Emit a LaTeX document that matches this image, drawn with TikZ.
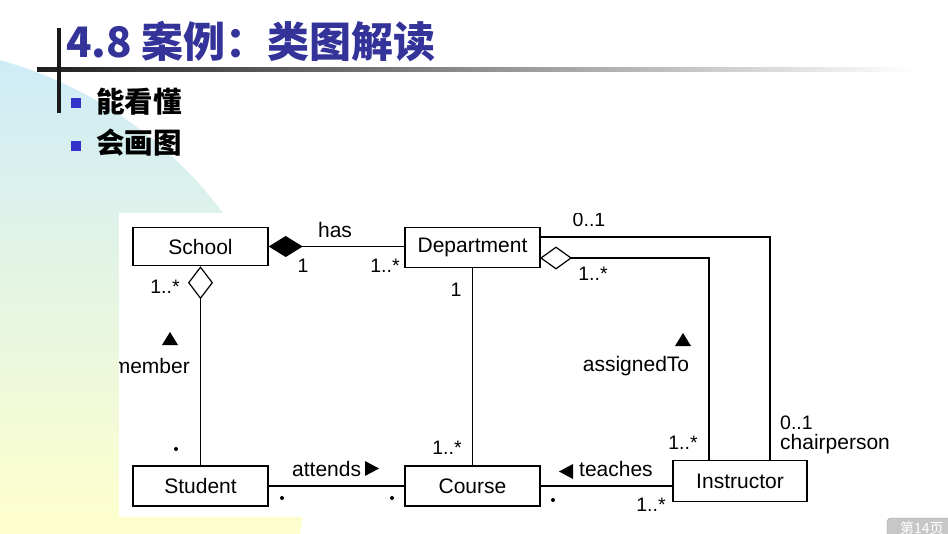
\documentclass[tikz,border=0pt]{standalone}
\usepackage{fontspec}
\setmainfont{Liberation Sans}
\newfontfamily\cjk{Noto Sans CJK SC}
\usetikzlibrary{arrows.meta,calc}
\definecolor{bgblue}{RGB}{204,235,249}
\definecolor{bgyellow}{RGB}{255,255,204}
\definecolor{titleblue}{RGB}{51,51,153}
\definecolor{bulletblue}{RGB}{51,51,204}
\newcommand\dfont{\fontsize{21}{24}\selectfont}
\newcommand\mfont{\fontsize{19.5}{22}\selectfont}
\tikzset{
  cls/.style={draw, line width=1.4pt, minimum width=135pt, minimum height=40pt, inner sep=0pt, font=\dfont, fill=white},
  lbl/.style={inner sep=0pt, font=\dfont},
  mult/.style={inner sep=0pt, font=\mfont},
  conn/.style={line width=1.2pt},
  dotmark/.style={circle, fill=black, inner sep=0pt, minimum size=4pt}
}
\begin{document}
\begin{tikzpicture}[x=1pt,y=-1pt]
\useasboundingbox (0,0) rectangle (948,533);
\fill[white] (0,0) rectangle (948,533);
% background shape
\begin{scope}
  \clip (-112,463) circle (418);
  \shade[top color=bgblue, bottom color=bgyellow] (-10,40) rectangle (330,540);
\end{scope}
% title decoration
\shade[left color=black!88, middle color=black!28, right color=white] (37,67) rectangle (914,71.5);
\fill[black!90] (56.5,28) rectangle (60.5,113);
\node[anchor=base west, inner sep=0pt, text=titleblue, font=\cjk\bfseries\fontsize{42}{46}\selectfont] (title) at (66,57) {4.8 案例：类图解读};
% bullets
\fill[bulletblue] (71,98) rectangle (80.5,108);
\fill[bulletblue] (71,141) rectangle (80.5,151);
\node[anchor=west, inner sep=0pt, font=\cjk\bfseries\fontsize{28.5}{32}\selectfont] (b1) at (96,102) {能看懂};
\node[anchor=west, inner sep=0pt, font=\cjk\bfseries\fontsize{28.5}{32}\selectfont] (b2) at (96,143) {会画图};
% diagram panel
\fill[white] (119,213) rectangle (948,517);
\begin{scope}
\clip (119,213) rectangle (948,517);
\node[cls, minimum height=38pt] (school) at (200.5,246.5) {School};
\node[cls] (dept) at (472.5,247.5) {Department};
\node[cls] (student) at (200.5,486) {Student};
\node[cls] (course) at (472.5,486) {Course};
\node[cls, minimum width=134pt, minimum height=41pt] (instr) at (740,481) {Instructor};
% has
\draw[conn, {Diamond[length=34pt,width=21pt]}-] (school.east) -- (school.east -| dept.west);
\node[lbl] (has) at (335,230) {has};
\node[mult] (m1) at (303,266) {1};
\node[mult] (m2) at (385,266) {1..*};
% member
\draw[conn, {Diamond[open,length=33pt,width=25pt]}-] (school.south) -- (student.north);
\node[mult] (m3) at (165,287) {1..*};
\fill (162,345) -- (178,345) -- (170,332) -- cycle;
\node[lbl, anchor=east] (member) at (190,366) {member};
\node[dotmark] (d1) at (176,449) {};
% attends
\draw[line width=2.4pt] (student.east) -- (course.west);
\node[lbl, anchor=west] (attends) at (292,469) {attends};
\fill (365,461) -- (365,476) -- (379,468.5) -- cycle;
\node[dotmark] (d2) at (282,498) {};
\node[dotmark] (d3) at (392,498) {};
% dept-course
\draw[conn] (dept.south) -- (course.north);
\node[mult] (m4) at (456,290) {1};
\node[mult] (m5) at (447,448) {1..*};
% teaches
\draw[conn] (course.east) -- (course.east -| instr.west);
\fill (573,464) -- (573,479) -- (559,471.5) -- cycle;
\node[lbl, anchor=west] (teaches) at (579,469) {teaches};
\node[dotmark] (d4) at (553,500) {};
\node[mult] (m6) at (651,505) {1..*};
% assignedTo
\coordinate (aS) at (540,258);
\coordinate (aX) at (709,300);
\draw[conn, {Diamond[open,length=32pt,width=23pt]}-] (aS) -| (instr.north -| aX);
\node[mult] (m7) at (593,274) {1..*};
\fill (675,346) -- (691,346) -- (683,333) -- cycle;
\node[lbl] (assigned) at (636,366) {assignedTo};
\node[mult] (m8) at (683,443) {1..*};
% chairperson
\coordinate (cS) at (540,237);
\coordinate (cX) at (770,300);
\draw[conn] (cS) -| (instr.north -| cX);
\node[mult] (m9) at (589,220) {0..1};
\node[mult, anchor=west] (m10) at (780,423) {0..1};
\node[lbl, anchor=west] (chair) at (780,444) {chairperson};
\end{scope}
% page button
\begin{scope}
\clip (0,0) rectangle (948,533);
\draw[rounded corners=4pt, fill=black!22, draw=black!40] (887,518) rectangle (965,560);
\node[anchor=north west, inner sep=0pt, text=white, font=\cjk\fontsize{14}{16}\selectfont] (pg) at (900,521) {第14页};
\end{scope}
\end{tikzpicture}
\end{document}
